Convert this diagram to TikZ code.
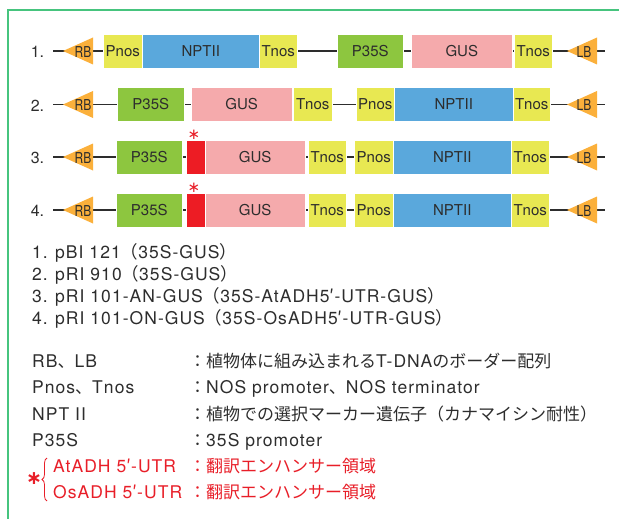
\documentclass[tikz,border=0pt]{standalone}
\usepackage{fontspec}
\setmainfont{TeX Gyre Heros}
\newfontfamily\jp{Noto Sans CJK JP}
\newfontfamily\condf[FakeStretch=0.8]{TeX Gyre Heros}
\newfontfamily\spaced[LetterSpace=6]{TeX Gyre Heros}
\newfontfamily\djv{DejaVu Sans}
\usetikzlibrary{decorations.pathreplacing}
\definecolor{frameg}{RGB}{70,196,126}
\definecolor{ylw}{RGB}{232,232,82}
\definecolor{blu}{RGB}{90,168,220}
\definecolor{grn}{RGB}{141,198,63}
\definecolor{pnk}{RGB}{245,170,172}
\definecolor{rd}{RGB}{237,28,36}
\definecolor{org}{RGB}{251,176,59}
\definecolor{txt}{RGB}{45,45,45}
\definecolor{rtxt}{RGB}{232,30,40}
\newcommand{\jps}{\jp\fontsize{17}{17}\selectfont}
\tikzset{
  seg/.style={draw=white, line width=0.5pt, minimum height=34pt, inner sep=0pt, anchor=west, text=txt, font=\fontsize{15}{15}\selectfont},
  ynos/.style={seg, fill=ylw},
  npt/.style={seg, fill=blu},
  ps/.style={seg, fill=grn},
  gus/.style={seg, fill=pnk},
  utr/.style={seg, fill=rd},
  backbone/.style={draw=txt, line width=1.6pt},
  tri/.style={fill=org},
  trilab/.style={text=txt, inner sep=0pt, font=\condf\fontsize{15}{15}\selectfont},
  rowlab/.style={text=txt, inner sep=0pt, font=\fontsize{16}{16}\selectfont},
  listtxt/.style={text=txt, inner sep=0pt, anchor=base west, font=\spaced\fontsize{17.5}{17.5}\selectfont},
  legtxt/.style={text=txt, inner sep=0pt, anchor=base west, font=\spaced\fontsize{17.5}{17.5}\selectfont},
  redtxt/.style={text=rtxt, inner sep=0pt, anchor=base west, font=\spaced\fontsize{17.5}{17.5}\selectfont},
  astsmall/.style={text=rtxt, inner sep=0pt, font=\djv\fontsize{15}{15}\selectfont},
  astbig/.style={text=rtxt, inner sep=0pt, font=\djv\bfseries\fontsize{19}{19}\selectfont},
}
\newcommand{\ltri}[2]{\fill[tri] (#1,#2) -- (#1+30,#2-13.5) -- (#1+30,#2+13.5) -- cycle;}
\begin{document}
\begin{tikzpicture}[x=1pt,y=-1pt]
\useasboundingbox (0,0) rectangle (619,519);
\draw[frameg, line width=2pt] (619,10) -- (8,10) -- (8,519);

% ---------- Row 1
\coordinate (r1a) at (53,51);
\coordinate (r1b) at (605,51);
\draw[backbone] (r1a) -- (r1b);
\node[rowlab] (l1) at (37.5,52) {1.};
\ltri{63}{51}
\node[trilab] (r1rb) at (83,52) {RB};
\node[ynos, minimum width=39pt] (r1pn) at (103,51) {Pnos};
\node[npt, minimum width=117pt] (r1np) at (142,51) {NPTII};
\node[ynos, minimum width=38pt] (r1tn) at (259,51) {Tnos};
\node[ps, minimum width=66pt] (r1ps) at (337,51) {P35S};
\node[gus, minimum width=101pt] (r1gus) at (411,51) {GUS};
\node[ynos, minimum width=38pt] (r1tn2) at (514,51) {Tnos};
\ltri{567}{51}
\node[trilab] (r1lb) at (584,52) {LB};

% ---------- Row 2
\coordinate (r2a) at (53,104.5);
\coordinate (r2b) at (605,104.5);
\draw[backbone] (r2a) -- (r2b);
\node[rowlab] (l2) at (37.5,105.5) {2.};
\ltri{63}{104.5}
\node[trilab] (r2rb) at (83,105.5) {RB};
\node[ps, minimum width=67pt] (r2ps) at (117,104.5) {P35S};
\node[gus, minimum width=101pt] (r2gus) at (191,104.5) {GUS};
\node[ynos, minimum width=39pt] (r2tn) at (293,104.5) {Tnos};
\node[ynos, minimum width=38pt] (r2pn) at (356,104.5) {Pnos};
\node[npt, minimum width=119pt] (r2np) at (394,104.5) {NPTII};
\node[ynos, minimum width=37pt] (r2tn2) at (513,104.5) {Tnos};
\ltri{567}{104.5}
\node[trilab] (r2lb) at (584,105.5) {LB};

% ---------- Row 3
\coordinate (r3a) at (53,157);
\coordinate (r3b) at (605,157);
\draw[backbone] (r3a) -- (r3b);
\node[rowlab] (l3) at (37.5,158) {3.};
\ltri{63}{157}
\node[trilab] (r3rb) at (83,158) {RB};
\node[ps, minimum width=66pt] (r3ps) at (116,157) {P35S};
\node[utr, minimum width=19pt] (r3utr) at (186,157) {};
\node[gus, minimum width=100pt] (r3gus) at (205,157) {GUS};
\node[ynos, minimum width=38pt] (r3tn) at (308,157) {Tnos};
\node[ynos, minimum width=39pt] (r3pn) at (354,157) {Pnos};
\node[npt, minimum width=118pt] (r3np) at (393,157) {NPTII};
\node[ynos, minimum width=38pt] (r3tn2) at (511,157) {Tnos};
\ltri{567}{157}
\node[trilab] (r3lb) at (584,158) {LB};
\node[astsmall] (a3) at (194,135) {∗};

% ---------- Row 4
\coordinate (r4a) at (53,210);
\coordinate (r4b) at (605,210);
\draw[backbone] (r4a) -- (r4b);
\node[rowlab] (l4) at (37.5,211) {4.};
\ltri{63}{210}
\node[trilab] (r4rb) at (83,211) {RB};
\node[ps, minimum width=66pt] (r4ps) at (116,210) {P35S};
\node[utr, minimum width=19pt] (r4utr) at (186,210) {};
\node[gus, minimum width=100pt] (r4gus) at (205,210) {GUS};
\node[ynos, minimum width=38pt] (r4tn) at (308,210) {Tnos};
\node[ynos, minimum width=39pt] (r4pn) at (354,210) {Pnos};
\node[npt, minimum width=118pt] (r4np) at (393,210) {NPTII};
\node[ynos, minimum width=38pt] (r4tn2) at (511,210) {Tnos};
\ltri{567}{210}
\node[trilab] (r4lb) at (584,211) {LB};
\node[astsmall] (a4) at (194,188) {∗};

% ---------- List
\node[listtxt] (n1) at (32,258) {1.};
\node[listtxt] (t1) at (55,258) {pBI 121{\jp（}35S-GUS{\jp）}};
\node[listtxt] (n2) at (32,280) {2.};
\node[listtxt] (t2) at (55,280) {pRI 910{\jp（}35S-GUS{\jp）}};
\node[listtxt] (n3) at (32,302) {3.};
\node[listtxt] (t3) at (55,302) {pRI 101-AN-GUS{\jp（}35S-AtADH5{\jp′}-UTR-GUS{\jp）}};
\node[listtxt] (n4) at (32,324) {4.};
\node[listtxt] (t4) at (55,324) {pRI 101-ON-GUS{\jp（}35S-OsADH5{\jp′}-UTR-GUS{\jp）}};

% ---------- Legend
\node[legtxt] (k1) at (32,367) {RB{\jps 、}LB};
\node[legtxt] (v1) at (189,367) {{\jps ：植物体に組み込まれる}T-DNA{\jps のボーダー配列}};
\node[legtxt] (k2) at (32,393) {Pnos{\jps 、}Tnos};
\node[legtxt] (v2) at (189,393) {{\jps ：}NOS promoter{\jps 、}NOS terminator};
\node[legtxt] (k3) at (32,420) {NPT II};
\node[legtxt] (v3) at (189,420) {{\jps ：植物での選択マーカー遺伝子（カナマイシン耐性）}};
\node[legtxt] (k4) at (32,446) {P35S};
\node[legtxt] (v4) at (189,446) {{\jps ：}35S promoter};
\node[redtxt] (k5) at (53,472) {AtADH 5{\jp′}-UTR};
\node[redtxt] (v5) at (189,472) {{\jps ：翻訳エンハンサー領域}};
\node[redtxt] (k6) at (53,498) {OsADH 5{\jp′}-UTR};
\node[redtxt] (v6) at (189,498) {{\jps ：翻訳エンハンサー領域}};
\node[astbig] (a5) at (34,479) {∗};
\draw[rtxt, line width=0.8pt, decorate, decoration={brace, amplitude=5pt}] (47,501) -- (47,458);
\end{tikzpicture}
\end{document}
